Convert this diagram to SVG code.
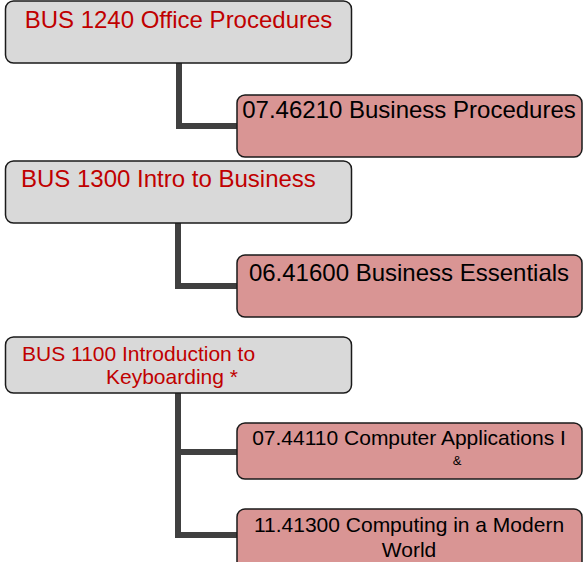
<svg xmlns="http://www.w3.org/2000/svg" width="583" height="562" viewBox="0 0 583 562">
<style>
.p{fill:#d9d9d9;stroke:#1a1a1a;stroke-width:1.5}
.c{fill:#d99594;stroke:#1a1a1a;stroke-width:1.5}
.pt{font-family:"Liberation Sans",Arial,sans-serif;fill:#c00000}
.ct{font-family:"Liberation Sans",Arial,sans-serif;fill:#000}
.con{fill:none;stroke:#404040;stroke-width:6}
</style>
<rect width="583" height="562" fill="#fff"/>
<g id="connectors">
<path class="con" d="M179 63V126H237"/>
<path class="con" d="M178 223V286H237"/>
<path class="con" d="M178 393V535H237M178 452H237"/>
</g>
<g id="bus1240">
<rect class="p" x="5.5" y="1" width="346" height="62" rx="8"/>
<text class="pt" x="178.5" y="28" font-size="24" text-anchor="middle">BUS 1240 Office Procedures</text>
</g>
<g id="n0746210">
<rect class="c" x="237" y="95" width="345" height="62" rx="8"/>
<text class="ct" x="409" y="118" font-size="24" text-anchor="middle">07.46210 Business Procedures</text>
</g>
<g id="bus1300">
<rect class="p" x="5.5" y="161" width="346" height="62" rx="8"/>
<text class="pt" x="21" y="187" font-size="24">BUS 1300 Intro to Business</text>
</g>
<g id="n0641600">
<rect class="c" x="237" y="255" width="345" height="62" rx="8"/>
<text class="ct" x="409" y="281" font-size="24" text-anchor="middle">06.41600 Business Essentials</text>
</g>
<g id="bus1100">
<rect class="p" x="5.5" y="337" width="346" height="56" rx="8"/>
<text class="pt" x="22" y="361" font-size="21">BUS 1100 Introduction to</text>
<text class="pt" x="106" y="384" font-size="21">Keyboarding *</text>
</g>
<g id="n0744110">
<rect class="c" x="237" y="423" width="345" height="56" rx="8"/>
<text class="ct" x="409" y="445" font-size="21" text-anchor="middle">07.44110 Computer Applications I</text>
<text class="ct" x="457" y="465" font-size="13" text-anchor="middle">&amp;</text>
</g>
<g id="n1141300">
<rect class="c" x="237" y="509" width="345" height="62" rx="8"/>
<text class="ct" x="409" y="532" font-size="21" text-anchor="middle">11.41300 Computing in a Modern</text>
<text class="ct" x="409" y="557" font-size="21" text-anchor="middle">World</text>
</g>
</svg>
